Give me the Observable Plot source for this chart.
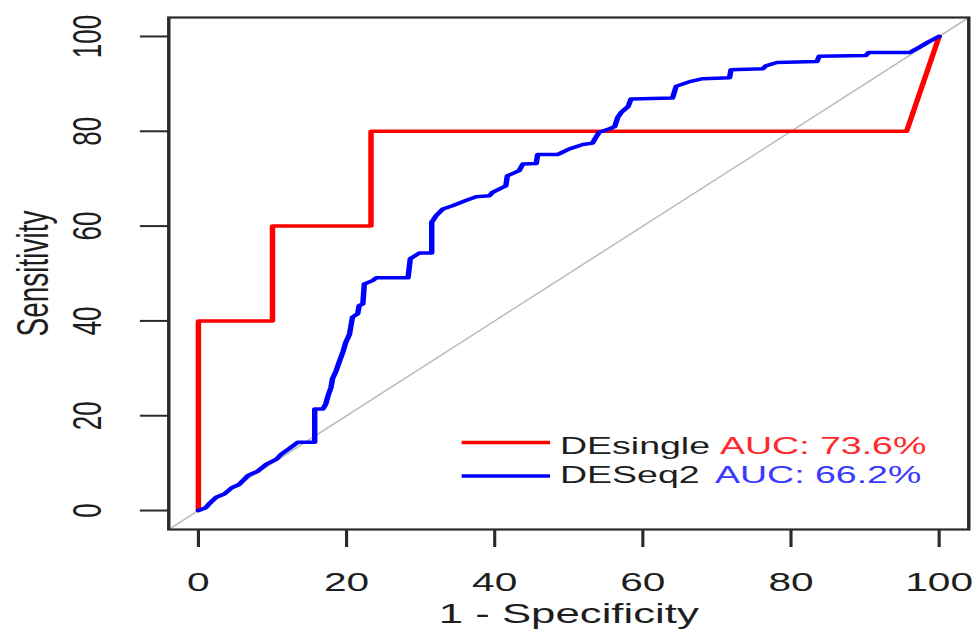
<!DOCTYPE html>
<html><head><meta charset="utf-8">
<script src="https://cdn.jsdelivr.net/npm/d3@7"></script>
<script src="https://cdn.jsdelivr.net/npm/@observablehq/plot@0.6"></script>
<style>html,body{margin:0;padding:0;background:#fff;overflow:hidden}</style>
</head><body><div id="chart"></div>
<script>
// ---- data ----
const xTicks = [0, 20, 40, 60, 80, 100];
const yTicks = [0, 20, 40, 60, 80, 100];
const axisDomain = [-4, 104];
const xLabel = "1 - Specificity";
const yLabel = "Sensitivity";
const seriesNames = ["DEsingle", "DESeq2"];
const aucLabels = ["AUC: 73.6%", "AUC: 66.2%"];
const seriesColors = ["#ff0000", "#0000ff"];
const aucColors = ["#ff2a2a", "#3a3aff"];

const desingleFpr = [0, 0, 10, 10, 23.3, 23.3, 95.6, 100];
const desingleTpr = [0, 40, 40, 60, 60, 80, 80, 100];

const deseq2Fpr = [0, 1, 1.5, 2.4, 3.5, 4.5, 5.5, 6.7, 8, 9.2, 10.5, 11.2, 12.2, 13.4, 15.7, 15.7, 16.8,
  17.2, 17.5, 17.9, 18.1, 18.6, 19.0, 19.5, 19.9, 20.4, 20.6, 20.8, 21.5, 21.7, 22.2, 22.4, 23.5, 24.0,
  28.3, 28.6, 29.8, 31.5, 31.5, 32.1, 33.0, 34.3, 36.1, 37.5, 39.3, 39.7, 41.5, 41.7, 43.3, 43.8, 45.6,
  45.8, 48.5, 50.1, 51.9, 53.2, 53.7, 54.1, 55.5, 56.2, 56.6, 57.1, 58.0, 58.4, 64.0, 64.5, 66.2, 68.1,
  71.7, 71.9, 76.2, 76.6, 78.1, 83.5, 83.8, 90.1, 90.5, 96.0, 97.3, 98.5, 100];
const deseq2Tpr = [0, 0.6, 1.5, 2.8, 3.5, 4.8, 5.5, 7.4, 8.3, 9.8, 10.8, 11.9, 13.0, 14.4, 14.4, 21.4, 21.4,
  22.5, 24.2, 26.0, 27.8, 29.5, 31.3, 33.4, 35.5, 37.2, 39.0, 40.8, 41.5, 43.2, 43.6, 47.8, 48.5, 49.1,
  49.1, 53.1, 54.3, 54.3, 60.8, 62.2, 63.6, 64.3, 65.4, 66.2, 66.4, 67.1, 68.5, 70.6, 71.7, 73.1, 73.2,
  75.1, 75.1, 76.3, 77.2, 77.5, 78.8, 79.8, 80.5, 81.0, 82.9, 84.0, 85.2, 86.8, 87.0, 89.5, 90.4, 91.1,
  91.3, 93.0, 93.2, 93.8, 94.5, 94.7, 95.8, 96.0, 96.6, 96.6, 97.7, 98.8, 100];

// ---- tables ----
const desingle = desingleFpr.map((x, i) => ({x, y: desingleTpr[i]}));
const deseq2 = deseq2Fpr.map((x, i) => ({x, y: deseq2Tpr[i]}));
const diag = [{x1: axisDomain[0], y1: axisDomain[0], x2: axisDomain[1], y2: axisDomain[1]}];

// the reference is horizontally stretched: draw in a square coordinate system, then stretch
const SX = 1.5625;
const OUT_W = 976, OUT_H = 632;
const W = OUT_W / SX;
const mL = 168 / SX, mR = W - 968 / SX;
const font = "Liberation Sans, Arial, Helvetica, sans-serif";

const chart = Plot.plot({
  width: W, height: OUT_H,
  marginLeft: mL, marginRight: mR, marginTop: 17, marginBottom: 103,
  x: {domain: axisDomain},
  y: {domain: axisDomain},
  style: {fontFamily: font, color: "#1e1e1e", background: "#fff"},
  marks: [
    Plot.link(diag, {x1: "x1", y1: "y1", x2: "x2", y2: "y2", stroke: "#bcbcbc", strokeWidth: 1.3, clip: true}),
    Plot.line(desingle, {x: "x", y: "y", stroke: seriesColors[0], strokeWidth: 3.5, strokeLinejoin: "round", strokeLinecap: "round"}),
    Plot.line(deseq2, {x: "x", y: "y", stroke: seriesColors[1], strokeWidth: 3.5, strokeLinejoin: "round", strokeLinecap: "round"}),
    Plot.axisX({ticks: xTicks, tickSize: 18, tickFormat: () => "", label: null, stroke: "#2a2a2a", strokeWidth: 2}),
    Plot.axisY({ticks: yTicks, tickSize: 18, tickFormat: () => "", label: null, stroke: "#2a2a2a", strokeWidth: 2}),
    Plot.text(xTicks, {x: d => d, frameAnchor: "bottom", dy: 53, text: d => String(d), fontSize: 26, textAnchor: "middle", lineAnchor: "middle", fill: "#1e1e1e"}),
    Plot.text(yTicks, {y: d => d, frameAnchor: "left", dx: -52, rotate: -90, text: d => String(d), fontSize: 26, textAnchor: "middle", lineAnchor: "middle", fill: "#1e1e1e"}),
    Plot.text([xLabel], {frameAnchor: "bottom", dy: 85, text: d => d, fontSize: 28, textAnchor: "middle", lineAnchor: "middle", fill: "#1e1e1e"}),
    Plot.text([yLabel], {frameAnchor: "left", dx: -86.5, rotate: -90, text: d => d, fontSize: 28, textAnchor: "middle", lineAnchor: "middle", fill: "#1e1e1e"}),
    Plot.frame({stroke: "#2a2a2a", strokeWidth: 2.2})
  ]
});

// legend (layout only), in the unstretched coordinate system
const svg = d3.select(chart);
const lg = svg.append("g").attr("font-family", font).attr("font-size", 24).attr("text-anchor", "start");
const rowsY = [442.5, 476];
const baseY = [454, 483];
const aucX = [720 / SX, 715 / SX];
seriesNames.forEach((name, i) => {
  lg.append("line").attr("x1", 461.7 / SX).attr("x2", 550 / SX).attr("y1", rowsY[i]).attr("y2", rowsY[i])
    .attr("stroke", seriesColors[i]).attr("stroke-width", 3.5);
  lg.append("text").attr("x", 560 / SX).attr("y", baseY[i]).attr("fill", "#1e1e1e").attr("text-anchor", "start").text(name);
  lg.append("text").attr("x", aucX[i]).attr("y", baseY[i]).attr("fill", aucColors[i]).attr("text-anchor", "start").text(aucLabels[i]);
});

chart.setAttribute("width", OUT_W);
chart.setAttribute("height", OUT_H);
chart.setAttribute("viewBox", `0 0 ${W} ${OUT_H}`);
chart.setAttribute("preserveAspectRatio", "none");
chart.style.width = OUT_W + "px";
chart.style.height = OUT_H + "px";
chart.style.maxWidth = "none";
document.getElementById("chart").appendChild(chart);
</script>
</body></html>
